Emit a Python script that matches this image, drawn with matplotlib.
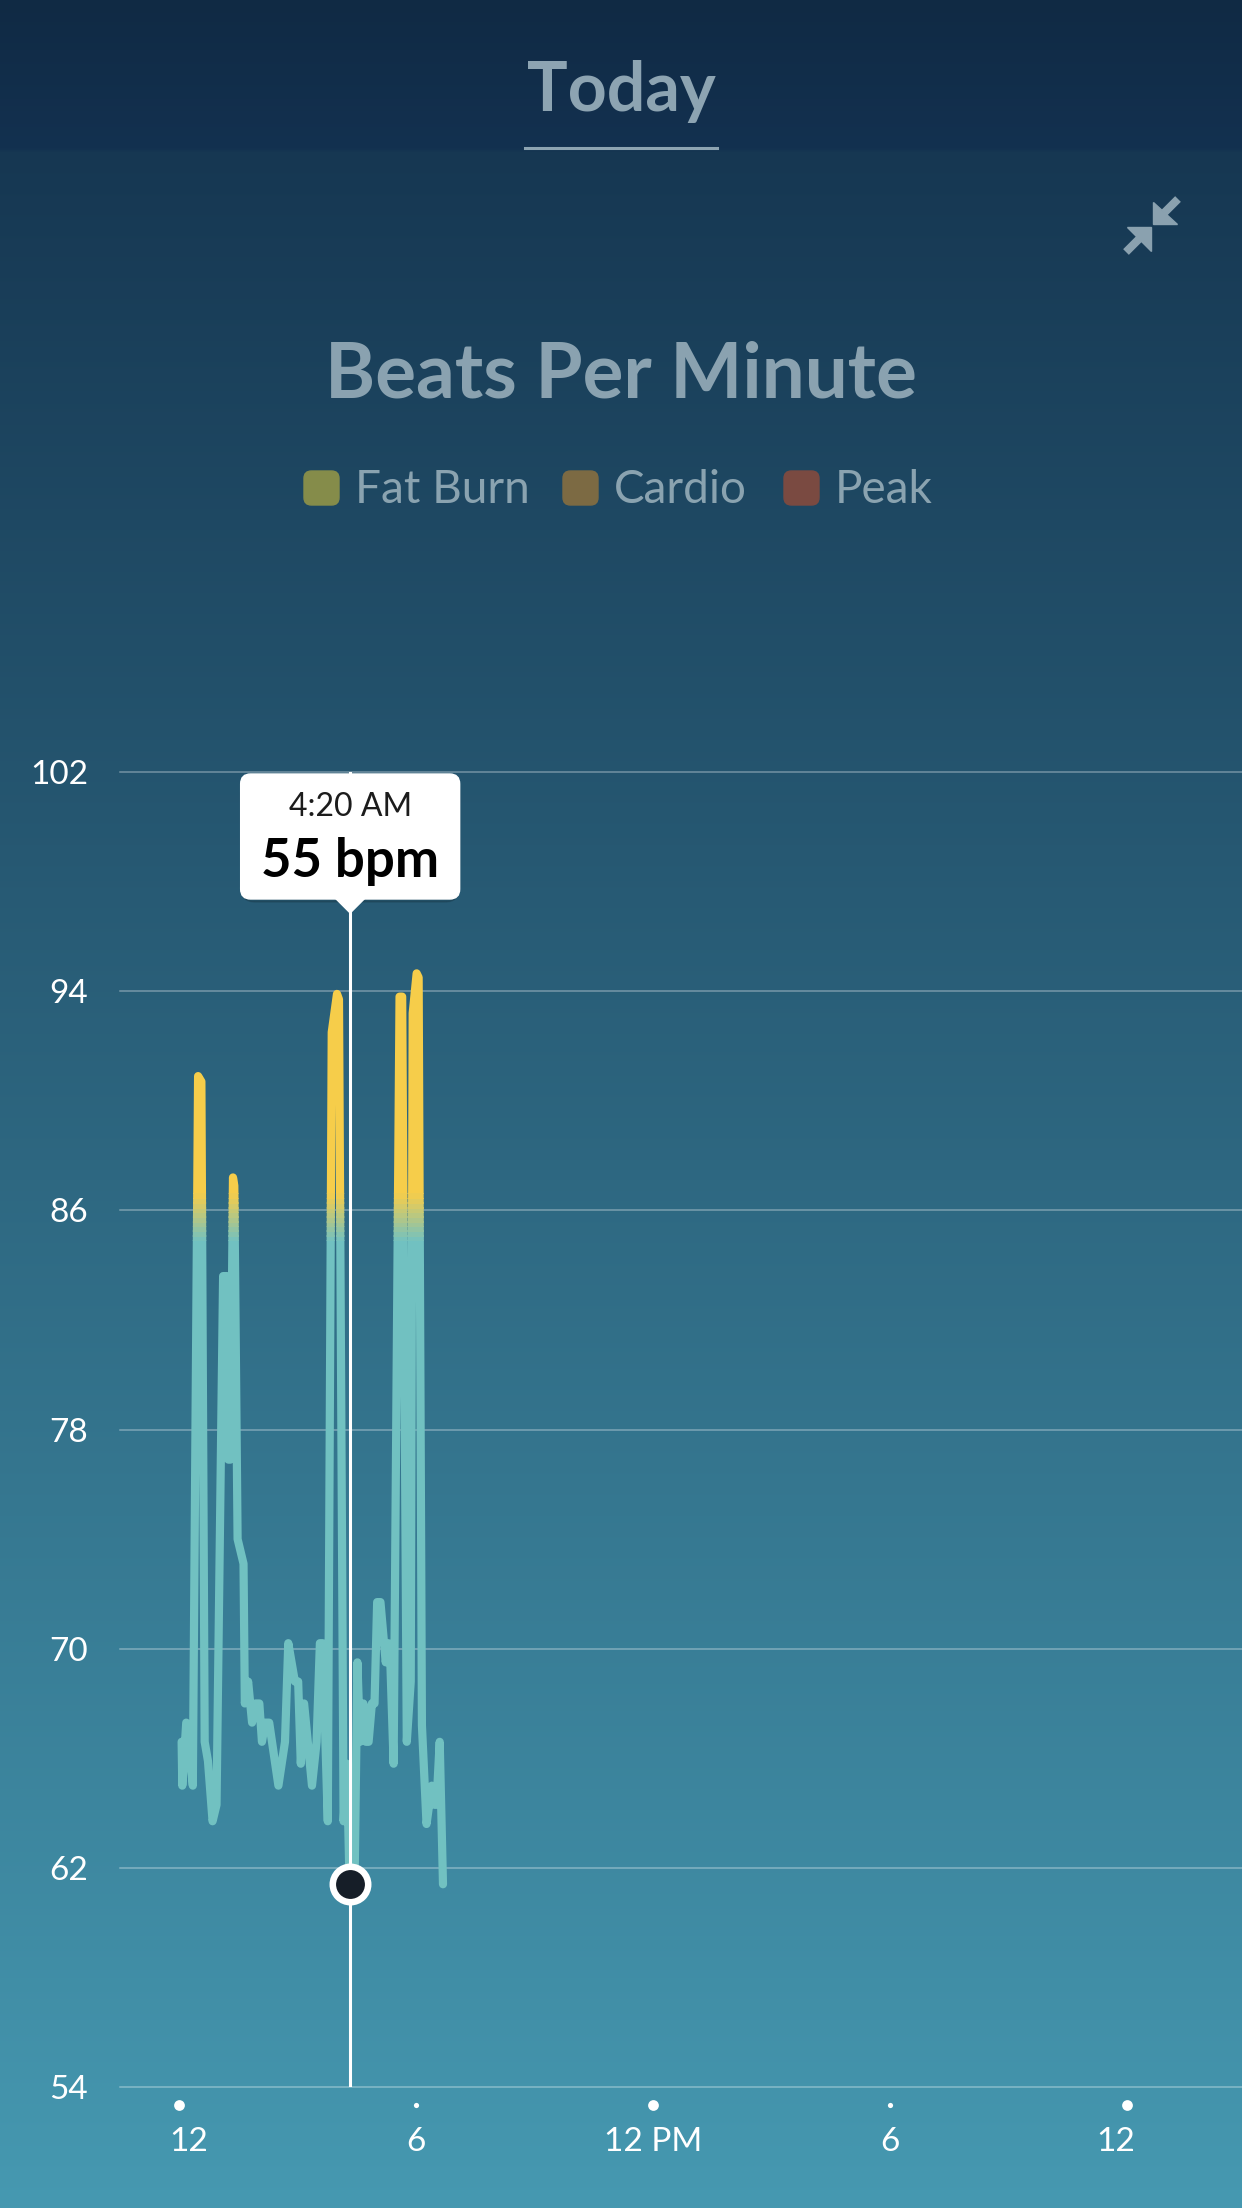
import numpy as np
import matplotlib.pyplot as plt
import matplotlib.transforms as mtransforms
from matplotlib.patches import Rectangle, FancyBboxPatch, Polygon
from matplotlib.lines import Line2D
from matplotlib.colors import to_rgb

plt.rcParams['font.family'] = ['Lato', 'DejaVu Sans']

# ==========================
# Data
# ==========================
# minutes after midnight
minutes = [4, 5, 11, 21, 29, 34, 39, 44, 51, 57, 67, 73, 75, 78, 82, 84, 89,
           98, 100, 105, 111, 116, 122, 126, 131, 137, 151, 161, 166, 176,
           181, 185, 190, 202, 209, 214, 218, 226, 232, 240, 243, 250, 255,
           259, 261, 267, 271, 275, 280, 284, 288, 293, 297, 301, 306, 314,
           318, 321, 326, 335, 339, 346, 352, 355, 361, 364, 369, 376, 384,
           388, 391, 396, 401]
bpm = [66.6, 65.0, 67.3, 65.0, 90.9, 90.7, 66.6, 65.9, 63.7, 64.3, 83.6, 83.6,
       76.9, 76.9, 87.2, 86.9, 74.0, 73.1, 68.0, 68.8, 67.3, 68.0, 68.0, 66.6,
       67.3, 67.3, 65.0, 66.6, 70.2, 68.8, 68.8, 65.8, 68.0, 65.0, 66.6, 70.2,
       70.2, 63.7, 92.5, 93.9, 93.7, 63.7, 65.8, 61.5, 61.4, 62.0, 69.5, 66.6,
       68.0, 66.6, 66.6, 68.0, 68.0, 71.7, 71.7, 69.5, 70.2, 69.5, 65.8, 93.8,
       93.8, 66.6, 68.8, 93.2, 94.65, 94.5, 67.2, 63.6, 65.0, 64.3, 64.3, 66.6,
       61.4]

y_ticks = [54, 62, 70, 78, 86, 94, 102]
x_tick_minutes = [0, 360, 720, 1080, 1440]
x_tick_labels = ['12', '6', '12 PM', '6', '12']
x_tick_major = [True, False, True, False, True]

zone_names = ['Fat Burn', 'Cardio', 'Peak']
zone_colors = ['#858c4a', '#7c6a43', '#7a4a41']

cursor_minute = 260
cursor_bpm = 61.4
cursor_time = '4:20 AM'
cursor_value = '55 bpm'

# ==========================
# Figure + background
# ==========================
W, H = 1242, 2208
fig = plt.figure(figsize=(W / 100, H / 100), dpi=100)


def fx(px):
    return px / W


def fy(py):
    return 1 - py / H


stops_y = [0, 148, 152, 2208]
stops_c = ['#102a44', '#133150', '#163752', '#4699b1']
rows = np.arange(H)
grad = np.zeros((H, 1, 3))
for k in range(3):
    grad[:, 0, k] = np.interp(rows, stops_y, [to_rgb(c)[k] for c in stops_c])
bg = fig.add_axes([0, 0, 1, 1], zorder=-10)
bg.imshow(grad, aspect='auto', extent=[0, 1, 0, 1], origin='upper')
bg.axis('off')

# ==========================
# Header
# ==========================
title_col = '#8da4b2'
fig.text(0.5, fy(111), 'Today', ha='center', va='baseline', fontsize=49,
         fontweight='bold', color=title_col)
fig.add_artist(Line2D([fx(525), fx(717)], [fy(148), fy(148)], lw=2.2,
                      color=title_col, transform=fig.transFigure))

# collapse icon
icon_col = '#8aa1af'
fig.add_artist(Polygon([(fx(1153.3), fy(201.7)), (fx(1153.3), fy(224.3)),
                        (fx(1176.7), fy(224.3))], closed=True, color=icon_col,
                       transform=fig.transFigure))
fig.add_artist(Line2D([fx(1164), fx(1178)], [fy(213), fy(199)], lw=5.8,
                      color=icon_col, solid_capstyle='butt',
                      transform=fig.transFigure))
fig.add_artist(Polygon([(fx(1127.3), fy(226.7)), (fx(1150.7), fy(226.7)),
                        (fx(1150.7), fy(250.7))], closed=True, color=icon_col,
                       transform=fig.transFigure))
fig.add_artist(Line2D([fx(1140), fx(1126)], [fy(238), fy(252)], lw=5.8,
                      color=icon_col, solid_capstyle='butt',
                      transform=fig.transFigure))

fig.text(0.5, fy(398), 'Beats Per Minute', ha='center', va='baseline',
         fontsize=55, fontweight='bold', color='#8aa2b0')

# legend
legend_sq_x = [304, 563, 784]
for name, col, sx in zip(zone_names, zone_colors, legend_sq_x):
    fig.add_artist(FancyBboxPatch((fx(sx), fy(505)), fx(35), 34 / H,
                                  boxstyle='round,pad=0,rounding_size=0.006',
                                  color=col, transform=fig.transFigure,
                                  mutation_aspect=W / H))
    fig.text(fx(sx + 51), fy(503), name, ha='left', va='baseline',
             fontsize=33, color='#8aa3b0')

# ==========================
# Chart
# ==========================
ax = fig.add_axes([fx(120), fy(2087), fx(1242) - fx(120), fy(772) - fy(2087)])
ax.patch.set_alpha(0)
px_per_min = (1127 - 179) / 1440
ax.set_xlim((120 - 179) / px_per_min, (1242 - 179) / px_per_min)
ax.set_ylim(54, 102)
for s in ax.spines.values():
    s.set_visible(False)
ax.set_yticks(y_ticks)
ax.tick_params(axis='y', length=0, pad=23, labelsize=24, labelcolor='white')
ax.set_xticks([])
for yv in y_ticks:
    ax.axhline(yv, color='white', alpha=0.36, lw=1.1, clip_on=False, zorder=1)

# heart rate line: teal below fat burn zone, yellow above, blended between
teal = np.array(to_rgb('#71c1c1'))
yellow = np.array(to_rgb('#f6cd4a'))
x0, x1 = ax.get_xlim()


def draw_band(lo, hi, color):
    ln, = ax.plot(minutes, bpm, color=color, lw=5.9, solid_joinstyle='round',
                  solid_capstyle='round', zorder=3)
    ln.set_clip_path(Rectangle((x0, lo), x1 - x0, hi - lo,
                               transform=ax.transData))


fade_lo, fade_hi = 84.9, 86.6
draw_band(fade_hi, 200, yellow)
draw_band(0, fade_lo, teal)
edges = np.linspace(fade_lo, fade_hi, 11)
for i in range(10):
    t = (i + 0.5) / 10
    draw_band(edges[i] - 0.03, edges[i + 1] + 0.03, teal * (1 - t) + yellow * t)

# x axis dots + labels
trans = mtransforms.blended_transform_factory(ax.transData, ax.transAxes)
dot_y = -18 / 1315
for m, lbl, major, nudge in zip(x_tick_minutes, x_tick_labels, x_tick_major,
                                [10, 0, 0, 0, -11]):
    ax.scatter([m], [dot_y], s=60 if major else 14, color='white',
               transform=trans, clip_on=False, zorder=4, linewidths=0)
    ax.annotate(lbl, xy=(m, 0), xycoords=trans,
                xytext=(nudge * 0.72, -55 * 0.72), textcoords='offset points',
                ha='center', va='center', fontsize=24, color='white',
                annotation_clip=False)

# cursor
ax.axvline(cursor_minute, color='white', lw=2.2, zorder=5)
ax.plot(cursor_minute, cursor_bpm, 'o', ms=25.5, mfc='#161e28', mec='white',
        mew=4.7, zorder=6, clip_on=False)

# tooltip
cx = 179 + cursor_minute * px_per_min
bw, btop, bbot = 219, 774, 899
fig.add_artist(FancyBboxPatch((fx(cx - bw / 2), fy(bbot + 3)), fx(bw),
                              (bbot - btop) / H,
                              boxstyle='round,pad=0,rounding_size=0.012',
                              mutation_aspect=W / H, color='black', alpha=0.12,
                              transform=fig.transFigure, zorder=7))
fig.add_artist(FancyBboxPatch((fx(cx - bw / 2), fy(bbot)), fx(bw),
                              (bbot - btop) / H,
                              boxstyle='round,pad=0,rounding_size=0.008',
                              mutation_aspect=W / H, color='white',
                              transform=fig.transFigure, zorder=8))
fig.add_artist(Polygon([(fx(cx - 15), fy(bbot - 1)), (fx(cx + 15), fy(bbot - 1)),
                        (fx(cx), fy(913))], closed=True, color='white',
                       transform=fig.transFigure, zorder=8))
fig.text(fx(cx), fy(816), cursor_time, ha='center', va='baseline', fontsize=23,
         fontweight='normal', color='#1c1c1c', zorder=9)
fig.text(fx(cx), fy(877), cursor_value, ha='center', va='baseline', fontsize=38,
         fontweight='bold', color='black', zorder=9)

fig.savefig('out.png', dpi=100)
